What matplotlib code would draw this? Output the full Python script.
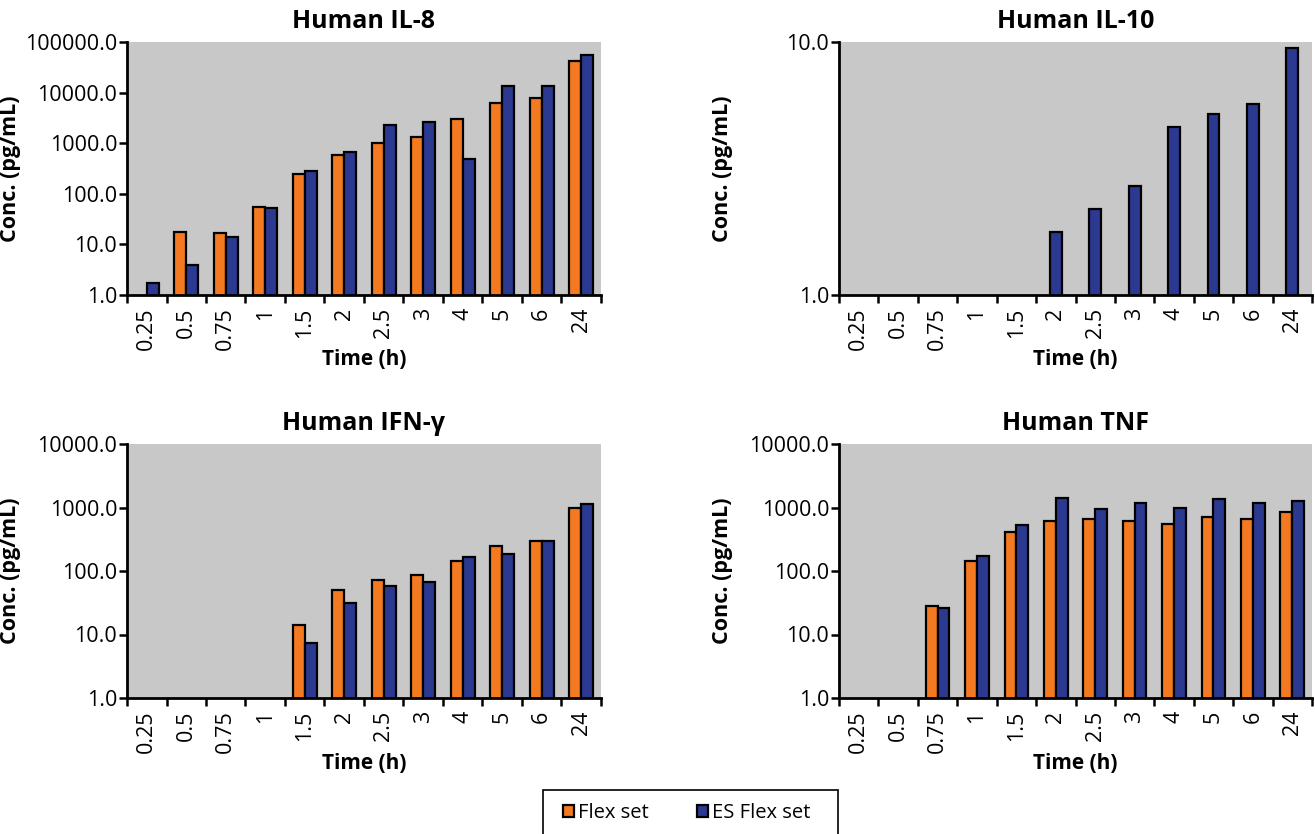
import numpy as np
import matplotlib
matplotlib.use("Agg")
import matplotlib.pyplot as plt
from matplotlib.patches import Patch, Rectangle
from matplotlib.ticker import LogLocator, NullLocator, FormatStrFormatter


# ==========================================================
# Data
# ==========================================================

time_labels = ["0.25", "0.5", "0.75", "1", "1.5", "2",
               "2.5", "3", "4", "5", "6", "24"]

nan = np.nan

il8_flex = [nan, 17.6, 16.8, 54, 250, 590, 1020, 1340, 2970, 6140, 7940, 41700]
il8_es = [1.7, 3.9, 14.2, 53, 287, 678, 2300, 2590, 494, 13600, 13300, 56600]

il10_flex = [nan] * 12
il10_es = [nan, nan, nan, nan, nan, 1.78, 2.19, 2.70, 4.60, 5.20, 5.70, 9.47]

ifng_flex = [nan, nan, nan, nan, 14.2, 51, 71, 85, 145, 252, 302, 1000]
ifng_es = [nan, nan, nan, nan, 7.4, 31.2, 59, 67.6, 169, 188, 302, 1125]

tnf_flex = [nan, nan, 27.7, 143, 408, 622, 670, 622, 552, 711, 661, 862]
tnf_es = [nan, nan, 25.7, 171, 532, 1432, 951, 1180, 995, 1380, 1166, 1254]

panels = [
    ("Human IL-8", il8_flex, il8_es, 100000.0),
    ("Human IL-10", il10_flex, il10_es, 10.0),
    ("Human IFN-\u03b3", ifng_flex, ifng_es, 10000.0),
    ("Human TNF", tnf_flex, tnf_es, 10000.0),
]

series_names = ["Flex set", "ES Flex set"]

ORANGE = "#F37A21"
BLUE = "#2B3990"
GREY = "#C8C8C8"


# ==========================================================
# Style
# ==========================================================

plt.rcParams["font.family"] = ["Open Sans", "DejaVu Sans"]

W, H = 1315, 834
fig = plt.figure(figsize=(W / 100, H / 100), dpi=100)

# axes boxes in pixels: left, top, right, bottom
boxes = [
    (127, 42, 601, 295),
    (839, 42, 1312, 295),
    (127, 444, 601, 698),
    (839, 444, 1312, 698),
]


def make_axes(box):
    l, t, r, b = box
    return fig.add_axes([l / W, 1 - b / H, (r - l) / W, (b - t) / H])


for (title, flex, es, ymax), box in zip(panels, boxes):

    ax = make_axes(box)
    ax.set_facecolor(GREY)

    x = np.arange(len(time_labels))
    flex = np.array(flex, dtype=float)
    es = np.array(es, dtype=float)

    bar_w = 0.3
    if np.all(np.isnan(flex)):
        ax.bar(x, es, width=bar_w, color=BLUE,
               edgecolor="black", linewidth=1.6, zorder=3)
    else:
        ax.bar(x - bar_w / 2, flex, width=bar_w, color=ORANGE,
               edgecolor="black", linewidth=1.6, zorder=3)
        ax.bar(x + bar_w / 2, es, width=bar_w, color=BLUE,
               edgecolor="black", linewidth=1.6, zorder=3)

    ax.set_yscale("log")
    ax.set_ylim(1.0, ymax)
    ax.set_xlim(-0.5, len(time_labels) - 0.5)

    ax.yaxis.set_major_locator(LogLocator(base=10, numticks=12))
    ax.yaxis.set_minor_locator(NullLocator())
    ax.yaxis.set_major_formatter(FormatStrFormatter("%.1f"))

    ax.set_xticks(x)
    ax.set_xticklabels(time_labels, rotation=90, fontsize=15.5)
    ax.set_xticks(np.arange(-0.5, len(time_labels)), minor=True)
    ax.tick_params(axis="x", which="major", length=0, pad=9)
    ax.tick_params(axis="x", which="minor", length=6, width=1.8)
    ax.tick_params(axis="y", which="major", length=6, width=1.8,
                   labelsize=15.5, pad=1)

    for side in ["top", "right"]:
        ax.spines[side].set_visible(False)
    for side in ["left", "bottom"]:
        ax.spines[side].set_linewidth(2)
        ax.spines[side].set_zorder(4)

    ax.set_title(title, fontsize=18, fontweight="bold", pad=10)
    ax.set_ylabel("Conc. (pg/mL)", fontsize=15.5, fontweight="bold")
    ax.yaxis.set_label_coords(-0.224, 0.5)
    ax.set_xlabel("Time (h)", fontsize=15, fontweight="bold")
    ax.xaxis.set_label_coords(0.5, -0.215)


# ==========================================================
# Legend
# ==========================================================

handles = [
    Patch(facecolor=ORANGE, edgecolor="black", linewidth=1.6),
    Patch(facecolor=BLUE, edgecolor="black", linewidth=1.6),
]

fig.patches.append(
    Rectangle(
        (543 / W, -0.02),
        (838 - 543) / W,
        (1 - 790 / H) + 0.02,
        transform=fig.transFigure,
        facecolor="white",
        edgecolor="black",
        linewidth=1.2,
    )
)

fig.legend(
    handles,
    series_names,
    loc="center",
    bbox_to_anchor=(687 / W, 1 - 813 / H),
    ncol=2,
    fontsize=14.5,
    frameon=False,
    handlelength=0.55,
    handleheight=0.55,
    handletextpad=0.2,
    columnspacing=2.4,
    borderaxespad=0,
)

fig.savefig("out.png", dpi=100)
